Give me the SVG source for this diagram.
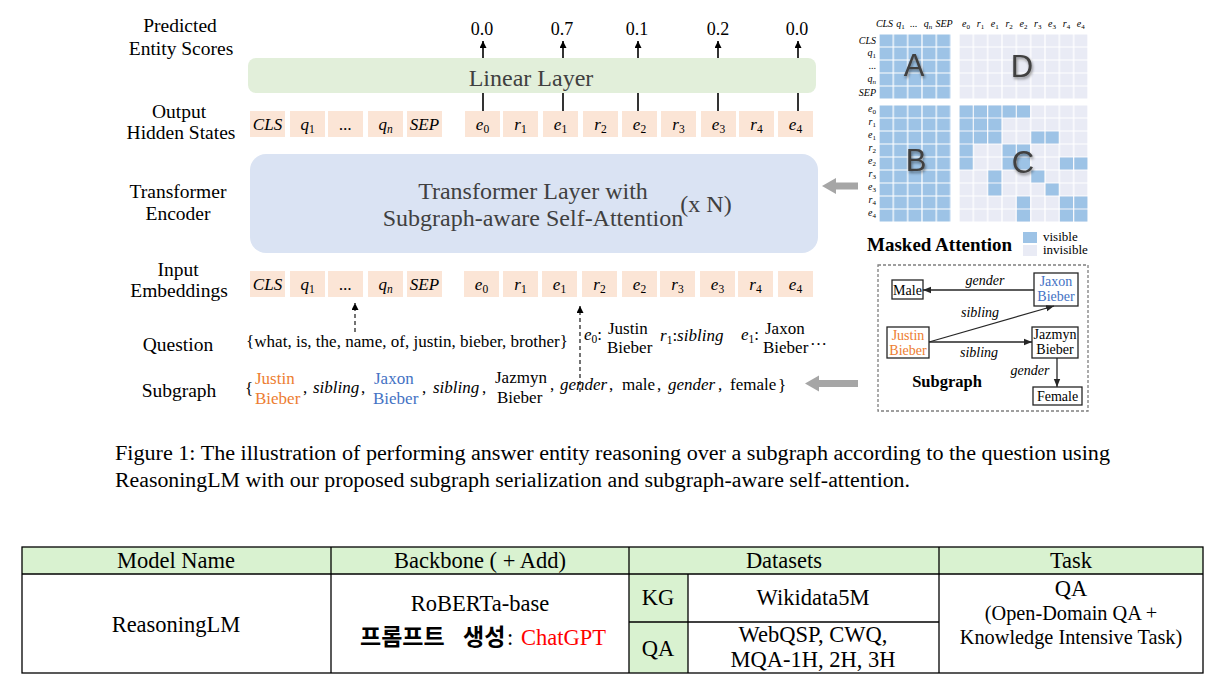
<svg xmlns="http://www.w3.org/2000/svg" width="1227" height="684" viewBox="0 0 1227 684">
<style>
  text { font-family: "Liberation Serif", "Times New Roman", serif; fill: #000; }
  .lbl { font-size: 19.5px; text-anchor: middle; }
  .tok { fill: #fbe5d6; }
  .tt { font-size: 17px; font-style: italic; text-anchor: middle; }
  .sub { font-size: 11.5px; }
  .score { font-size: 18px; text-anchor: middle; }
  .big { font-size: 24px; fill: #404040; text-anchor: middle; }
  .ml { font-size: 10px; font-style: italic; }
  .vis { fill: #9dc3e6; }
  .inv { fill: #e9ebf5; }
  .blk { font-family: "Liberation Sans", Arial, sans-serif; font-size: 31px; fill: #404040; text-anchor: middle; }
  .sg { font-size: 14px; text-anchor: middle; }
  .sgi { font-size: 14px; font-style: italic; text-anchor: middle; }
  .nbox { fill: #fff; stroke: #262626; stroke-width: 1.3; }
  .edge { stroke: #262626; stroke-width: 1.3; fill: none; }
  .ln { stroke: #000; stroke-width: 1.6; fill: none; }
  .dash { stroke: #000; stroke-width: 1.1; stroke-dasharray: 4 3; fill: none; }
  .q { font-size: 17px; }
  .qi { font-size: 17px; font-style: italic; }
  .tb { font-size: 22.5px; text-anchor: middle; }
  .tbs { font-size: 20.3px; text-anchor: middle; }
  .grid { stroke: #000; stroke-width: 1.3; fill: none; }
  .gray { fill: #a6a6a6; }
</style>
<defs>
  <marker id="ah" viewBox="0 0 10 10" refX="10" refY="5" markerWidth="7" markerHeight="7" markerUnits="userSpaceOnUse" orient="auto">
    <path d="M0,0 L10,5 L0,10 z" fill="#000"/>
  </marker>
  <marker id="ah2" viewBox="0 0 10 10" refX="10" refY="5" markerWidth="8" markerHeight="8" markerUnits="userSpaceOnUse" orient="auto">
    <path d="M0,1 L10,5 L0,9 z" fill="#262626"/>
  </marker>
  <pattern id="pA" x="879" y="34" width="14.333" height="13" patternUnits="userSpaceOnUse">
    <rect x="0.6" y="0.5" width="13.1" height="12" fill="#9dc3e6"/>
  </pattern>
  <pattern id="pB" x="879" y="105" width="14.333" height="13" patternUnits="userSpaceOnUse">
    <rect x="0.6" y="0.5" width="13.1" height="12" fill="#9dc3e6"/>
  </pattern>
  <pattern id="pD" x="959" y="34" width="14.333" height="13" patternUnits="userSpaceOnUse">
    <rect x="0.6" y="0.5" width="13.1" height="12" fill="#e9ebf5"/>
  </pattern>
  <pattern id="pC" x="959" y="105" width="14.333" height="13" patternUnits="userSpaceOnUse">
    <rect x="0.6" y="0.5" width="13.1" height="12" fill="#e9ebf5"/>
  </pattern>
  <filter id="sh" x="-30%" y="-30%" width="160%" height="160%">
    <feGaussianBlur in="SourceAlpha" stdDeviation="1.5"/>
    <feOffset dx="1" dy="1.5" result="b"/>
    <feComponentTransfer><feFuncA type="linear" slope="0.45"/></feComponentTransfer>
    <feMerge><feMergeNode/><feMergeNode in="SourceGraphic"/></feMerge>
  </filter>
</defs>

<!-- Left labels -->
<g id="labels">
  <text class="lbl" x="180" y="32">Predicted</text>
  <text class="lbl" x="181" y="55">Entity Scores</text>
  <text class="lbl" x="179" y="118">Output</text>
  <text class="lbl" x="181" y="139">Hidden States</text>
  <text class="lbl" x="178" y="198">Transformer</text>
  <text class="lbl" x="178" y="220">Encoder</text>
  <text class="lbl" x="178" y="276">Input</text>
  <text class="lbl" x="179" y="297">Embeddings</text>
  <text class="lbl" x="178" y="351">Question</text>
  <text class="lbl" x="179" y="397">Subgraph</text>
</g>

<!-- Scores -->
<g id="scores">
  <text class="score" x="482" y="35">0.0</text>
  <text class="score" x="562" y="35">0.7</text>
  <text class="score" x="637" y="35">0.1</text>
  <text class="score" x="718" y="35">0.2</text>
  <text class="score" x="797" y="35">0.0</text>
</g>

<!-- Linear layer -->
<g id="linear-layer">
  <rect x="248" y="58" width="568" height="35" rx="8" fill="#e2efda"/>
  <text class="big" x="531" y="86">Linear Layer</text>
</g>

<!-- Output hidden states -->
<g id="output-tokens">
  <rect class="tok" x="250" y="111" width="35" height="26"/>
  <rect class="tok" x="290" y="111" width="35" height="26"/>
  <rect class="tok" x="328" y="111" width="35" height="26"/>
  <rect class="tok" x="368" y="111" width="35" height="26"/>
  <rect class="tok" x="407" y="111" width="35" height="26"/>
  <rect class="tok" x="465" y="111" width="35" height="26"/>
  <rect class="tok" x="503" y="111" width="35" height="26"/>
  <rect class="tok" x="543" y="111" width="35" height="26"/>
  <rect class="tok" x="583" y="111" width="35" height="26"/>
  <rect class="tok" x="622" y="111" width="35" height="26"/>
  <rect class="tok" x="661" y="111" width="35" height="26"/>
  <rect class="tok" x="701" y="111" width="35" height="26"/>
  <rect class="tok" x="739" y="111" width="35" height="26"/>
  <rect class="tok" x="778" y="111" width="35" height="26"/>
  <text class="tt" x="267.5" y="130">CLS</text>
  <text class="tt" x="307.5" y="130">q<tspan class="sub" font-style="normal" dy="3">1</tspan></text>
  <text class="tt" x="345.5" y="130" font-style="normal">...</text>
  <text class="tt" x="385.5" y="130">q<tspan class="sub" dy="3">n</tspan></text>
  <text class="tt" x="424.5" y="130">SEP</text>
  <text class="tt" x="482.5" y="130">e<tspan class="sub" font-style="normal" dy="3">0</tspan></text>
  <text class="tt" x="520.5" y="130">r<tspan class="sub" font-style="normal" dy="3">1</tspan></text>
  <text class="tt" x="560.5" y="130">e<tspan class="sub" font-style="normal" dy="3">1</tspan></text>
  <text class="tt" x="600.5" y="130">r<tspan class="sub" font-style="normal" dy="3">2</tspan></text>
  <text class="tt" x="639.5" y="130">e<tspan class="sub" font-style="normal" dy="3">2</tspan></text>
  <text class="tt" x="678.5" y="130">r<tspan class="sub" font-style="normal" dy="3">3</tspan></text>
  <text class="tt" x="718.5" y="130">e<tspan class="sub" font-style="normal" dy="3">3</tspan></text>
  <text class="tt" x="756.5" y="130">r<tspan class="sub" font-style="normal" dy="3">4</tspan></text>
  <text class="tt" x="795.5" y="130">e<tspan class="sub" font-style="normal" dy="3">4</tspan></text>
</g>

<!-- Transformer -->
<g id="transformer">
  <rect x="250" y="154" width="568" height="99" rx="16" fill="#dae3f3"/>
  <text class="big" x="533" y="199">Transformer Layer with</text>
  <text class="big" x="533" y="226">Subgraph-aware Self-Attention</text>
  <text class="big" x="706" y="212">(x N)</text>
</g>

<!-- Input embeddings -->
<g id="input-tokens">
  <rect class="tok" x="250" y="271" width="35" height="26"/>
  <rect class="tok" x="290" y="271" width="35" height="26"/>
  <rect class="tok" x="328" y="271" width="35" height="26"/>
  <rect class="tok" x="368" y="271" width="35" height="26"/>
  <rect class="tok" x="407" y="271" width="35" height="26"/>
  <rect class="tok" x="464" y="271" width="35" height="26"/>
  <rect class="tok" x="503" y="271" width="35" height="26"/>
  <rect class="tok" x="542" y="271" width="35" height="26"/>
  <rect class="tok" x="582" y="271" width="35" height="26"/>
  <rect class="tok" x="622" y="271" width="35" height="26"/>
  <rect class="tok" x="660" y="271" width="35" height="26"/>
  <rect class="tok" x="700" y="271" width="35" height="26"/>
  <rect class="tok" x="738" y="271" width="35" height="26"/>
  <rect class="tok" x="778" y="271" width="35" height="26"/>
  <text class="tt" x="267.5" y="290">CLS</text>
  <text class="tt" x="307.5" y="290">q<tspan class="sub" font-style="normal" dy="3">1</tspan></text>
  <text class="tt" x="345.5" y="290" font-style="normal">...</text>
  <text class="tt" x="385.5" y="290">q<tspan class="sub" dy="3">n</tspan></text>
  <text class="tt" x="424.5" y="290">SEP</text>
  <text class="tt" x="481.5" y="290">e<tspan class="sub" font-style="normal" dy="3">0</tspan></text>
  <text class="tt" x="520.5" y="290">r<tspan class="sub" font-style="normal" dy="3">1</tspan></text>
  <text class="tt" x="559.5" y="290">e<tspan class="sub" font-style="normal" dy="3">1</tspan></text>
  <text class="tt" x="599.5" y="290">r<tspan class="sub" font-style="normal" dy="3">2</tspan></text>
  <text class="tt" x="639.5" y="290">e<tspan class="sub" font-style="normal" dy="3">2</tspan></text>
  <text class="tt" x="677.5" y="290">r<tspan class="sub" font-style="normal" dy="3">3</tspan></text>
  <text class="tt" x="717.5" y="290">e<tspan class="sub" font-style="normal" dy="3">3</tspan></text>
  <text class="tt" x="755.5" y="290">r<tspan class="sub" font-style="normal" dy="3">4</tspan></text>
  <text class="tt" x="795.5" y="290">e<tspan class="sub" font-style="normal" dy="3">4</tspan></text>
</g>

<!-- Question -->
<g id="question">
  <text class="q" x="246" y="347" textLength="322" lengthAdjust="spacingAndGlyphs">{what, is, the, name, of, justin, bieber, brother}</text>
  <text class="qi" x="584" y="340">e<tspan class="sub" font-style="normal" dy="3">0</tspan><tspan font-style="normal" dy="-3">:</tspan></text>
  <text class="q" x="608" y="334">Justin</text>
  <text class="q" x="607" y="353">Bieber</text>
  <text class="qi" x="660" y="341">r<tspan class="sub" font-style="normal" dy="3">1</tspan><tspan font-style="normal" dy="-3">:</tspan>sibling</text>
  <text class="qi" x="741" y="340">e<tspan class="sub" font-style="normal" dy="3">1</tspan><tspan font-style="normal" dy="-3">:</tspan></text>
  <text class="q" x="765" y="334">Jaxon</text>
  <text class="q" x="763" y="353">Bieber</text>
  <text class="q" x="810" y="345">…</text>
</g>

<!-- Subgraph serialization -->
<g id="subgraph-seq">
  <text class="q" x="245" y="394" font-size="21">{</text>
  <text class="q" x="255" y="384" style="fill:#ed7d31">Justin</text>
  <text class="q" x="255" y="404" style="fill:#ed7d31">Bieber</text>
  <text class="q" x="303" y="393">,</text>
  <text class="qi" x="313" y="393">sibling</text>
  <text class="q" x="361" y="393">,</text>
  <text class="q" x="374" y="384" style="fill:#4472c4">Jaxon</text>
  <text class="q" x="373" y="404" style="fill:#4472c4">Bieber</text>
  <text class="q" x="422" y="393">,</text>
  <text class="qi" x="433" y="393">sibling</text>
  <text class="q" x="482" y="393">,</text>
  <text class="q" x="495" y="383">Jazmyn</text>
  <text class="q" x="497" y="403">Bieber</text>
  <text class="q" x="550" y="390">,</text>
  <text class="qi" x="560" y="390">gender</text>
  <text class="q" x="609" y="390">,</text>
  <text class="q" x="622" y="390">male</text>
  <text class="q" x="657" y="390">,</text>
  <text class="qi" x="668" y="390">gender</text>
  <text class="q" x="718" y="390">,</text>
  <text class="q" x="730" y="390">female</text>
  <text class="q" x="778" y="391" font-size="21">}</text>
</g>

<!-- Attention matrix -->
<g id="masked-attention">
  <rect x="879" y="34" width="72" height="65" fill="url(#pA)"/>
  <rect x="879" y="105" width="72" height="117" fill="url(#pB)"/>
  <rect x="959" y="34" width="129" height="65" fill="url(#pD)"/>
  <rect x="959" y="105" width="129" height="117" fill="url(#pC)"/>
  <g class="vis">
    <rect x="959.6" y="105.5" width="13.1" height="12"/><rect x="973.9" y="105.5" width="13.1" height="12"/><rect x="988.3" y="105.5" width="13.1" height="12"/><rect x="1002.6" y="105.5" width="13.1" height="12"/><rect x="1016.9" y="105.5" width="13.1" height="12"/>
    <rect x="959.6" y="118.5" width="13.1" height="12"/><rect x="973.9" y="118.5" width="13.1" height="12"/><rect x="988.3" y="118.5" width="13.1" height="12"/>
    <rect x="959.6" y="131.5" width="13.1" height="12"/><rect x="973.9" y="131.5" width="13.1" height="12"/><rect x="988.3" y="131.5" width="13.1" height="12"/><rect x="1031.3" y="131.5" width="13.1" height="12"/><rect x="1045.6" y="131.5" width="13.1" height="12"/>
    <rect x="959.6" y="144.5" width="13.1" height="12"/><rect x="1002.6" y="144.5" width="13.1" height="12"/><rect x="1016.9" y="144.5" width="13.1" height="12"/>
    <rect x="959.6" y="157.5" width="13.1" height="12"/><rect x="1002.6" y="157.5" width="13.1" height="12"/><rect x="1016.9" y="157.5" width="13.1" height="12"/><rect x="1059.9" y="157.5" width="13.1" height="12"/><rect x="1074.3" y="157.5" width="13.1" height="12"/>
    <rect x="988.3" y="170.5" width="13.1" height="12"/><rect x="1031.3" y="170.5" width="13.1" height="12"/>
    <rect x="988.3" y="183.5" width="13.1" height="12"/><rect x="1045.6" y="183.5" width="13.1" height="12"/>
    <rect x="1016.9" y="196.5" width="13.1" height="12"/><rect x="1059.9" y="196.5" width="13.1" height="12"/><rect x="1074.3" y="196.5" width="13.1" height="12"/>
    <rect x="1016.9" y="209.5" width="13.1" height="12"/><rect x="1059.9" y="209.5" width="13.1" height="12"/><rect x="1074.3" y="209.5" width="13.1" height="12"/>
  </g>
  <g class="ml" text-anchor="middle">
    <text x="884.5" y="27">CLS</text>
    <text x="900.5" y="27">q<tspan font-size="7" font-style="normal" dy="2">1</tspan></text>
    <text x="913.5" y="27" font-style="normal">...</text>
    <text x="928" y="27">q<tspan font-size="7" dy="2">n</tspan></text>
    <text x="944" y="27">SEP</text>
    <text x="966" y="27">e<tspan font-size="7" font-style="normal" dy="2">0</tspan></text>
    <text x="980.5" y="27">r<tspan font-size="7" font-style="normal" dy="2">1</tspan></text>
    <text x="994.8" y="27">e<tspan font-size="7" font-style="normal" dy="2">1</tspan></text>
    <text x="1009.1" y="27">r<tspan font-size="7" font-style="normal" dy="2">2</tspan></text>
    <text x="1023.5" y="27">e<tspan font-size="7" font-style="normal" dy="2">2</tspan></text>
    <text x="1037.8" y="27">r<tspan font-size="7" font-style="normal" dy="2">3</tspan></text>
    <text x="1052.1" y="27">e<tspan font-size="7" font-style="normal" dy="2">3</tspan></text>
    <text x="1066.5" y="27">r<tspan font-size="7" font-style="normal" dy="2">4</tspan></text>
    <text x="1080.8" y="27">e<tspan font-size="7" font-style="normal" dy="2">4</tspan></text>
  </g>
  <g class="ml" text-anchor="end">
    <text x="876" y="44">CLS</text>
    <text x="876" y="56">q<tspan font-size="7" font-style="normal" dy="2">1</tspan></text>
    <text x="876" y="69" font-style="normal">...</text>
    <text x="876" y="82">q<tspan font-size="7" dy="2">n</tspan></text>
    <text x="876" y="96">SEP</text>
    <text x="876" y="112">e<tspan font-size="7" font-style="normal" dy="2">0</tspan></text>
    <text x="876" y="125">r<tspan font-size="7" font-style="normal" dy="2">1</tspan></text>
    <text x="876" y="138">e<tspan font-size="7" font-style="normal" dy="2">1</tspan></text>
    <text x="876" y="151">r<tspan font-size="7" font-style="normal" dy="2">2</tspan></text>
    <text x="876" y="164">e<tspan font-size="7" font-style="normal" dy="2">2</tspan></text>
    <text x="876" y="177">r<tspan font-size="7" font-style="normal" dy="2">3</tspan></text>
    <text x="876" y="190">e<tspan font-size="7" font-style="normal" dy="2">3</tspan></text>
    <text x="876" y="203">r<tspan font-size="7" font-style="normal" dy="2">4</tspan></text>
    <text x="876" y="216">e<tspan font-size="7" font-style="normal" dy="2">4</tspan></text>
  </g>
  <g filter="url(#sh)">
    <text class="blk" x="914" y="76">A</text>
    <text class="blk" x="1022" y="77">D</text>
    <text class="blk" x="916" y="171">B</text>
    <text class="blk" x="1023" y="173">C</text>
  </g>
  <text x="867" y="251" font-size="19" font-weight="bold">Masked Attention</text>
  <rect class="vis" x="1023" y="232" width="14" height="11"/>
  <rect class="inv" x="1023" y="245" width="14" height="11"/>
  <text x="1043" y="241" font-size="13">visible</text>
  <text x="1043" y="254" font-size="13">invisible</text>
</g>

<!-- Subgraph panel -->
<g id="subgraph-panel">
  <rect x="878" y="265" width="210" height="146" fill="none" stroke="#7f7f7f" stroke-width="1.3" stroke-dasharray="3 2"/>
  <text x="947" y="387" font-size="16.5" font-weight="bold" text-anchor="middle">Subgraph</text>
</g>
<g id="node-male">
  <rect class="nbox" x="892" y="280" width="31" height="19"/>
  <text class="sg" x="907.5" y="295">Male</text>
</g>
<g id="node-jaxon">
  <rect class="nbox" x="1034" y="273" width="44" height="33"/>
  <text class="sg" x="1056" y="286" style="fill:#4472c4">Jaxon</text>
  <text class="sg" x="1056" y="301" style="fill:#4472c4">Bieber</text>
</g>
<g id="node-justin">
  <rect class="nbox" x="887" y="327" width="42" height="31"/>
  <text class="sg" x="908" y="340" style="fill:#ed7d31">Justin</text>
  <text class="sg" x="908" y="355" style="fill:#ed7d31">Bieber</text>
</g>
<g id="node-jazmyn">
  <rect class="nbox" x="1032" y="327" width="46" height="31"/>
  <text class="sg" x="1055" y="339">Jazmyn</text>
  <text class="sg" x="1055" y="354">Bieber</text>
</g>
<g id="node-female">
  <rect class="nbox" x="1033" y="387" width="49" height="18"/>
  <text class="sg" x="1057.5" y="401">Female</text>
</g>

<!-- Connectors -->
<g id="connectors">
  <line class="edge" x1="1034" y1="290" x2="923" y2="290" marker-end="url(#ah2)"/>
  <line class="edge" x1="929" y1="342" x2="1054" y2="306" marker-end="url(#ah2)"/>
  <line class="edge" x1="929" y1="342" x2="1032" y2="342" marker-end="url(#ah2)"/>
  <line class="edge" x1="1057" y1="358" x2="1057" y2="387" marker-end="url(#ah2)"/>
  <text class="sgi" x="985" y="285">gender</text>
  <text class="sgi" x="980" y="317">sibling</text>
  <text class="sgi" x="979" y="357">sibling</text>
  <text class="sgi" x="1030" y="375">gender</text>

  <line class="ln" x1="483" y1="58" x2="483" y2="41" marker-end="url(#ah)"/>
  <line class="ln" x1="563" y1="58" x2="563" y2="41" marker-end="url(#ah)"/>
  <line class="ln" x1="638" y1="58" x2="638" y2="41" marker-end="url(#ah)"/>
  <line class="ln" x1="718" y1="58" x2="718" y2="41" marker-end="url(#ah)"/>
  <line class="ln" x1="798" y1="58" x2="798" y2="41" marker-end="url(#ah)"/>
  <line class="ln" x1="483" y1="93" x2="483" y2="111"/>
  <line class="ln" x1="563" y1="93" x2="563" y2="111"/>
  <line class="ln" x1="638" y1="93" x2="638" y2="111"/>
  <line class="ln" x1="718" y1="93" x2="718" y2="111"/>
  <line class="ln" x1="798" y1="93" x2="798" y2="111"/>

  <line class="dash" x1="355" y1="332" x2="355" y2="303" marker-end="url(#ah)"/>
  <line class="dash" x1="580" y1="392" x2="580" y2="306" marker-end="url(#ah)"/>

  <path class="gray" d="M858,182.5 L836,182.5 L836,178 L822,186 L836,194 L836,189.5 L858,189.5 z"/>
  <path class="gray" d="M858,380 L819,380 L819,375.5 L805,383.5 L819,391.5 L819,387 L858,387 z"/>
</g>

<!-- Caption -->
<g id="caption">
  <text x="115" y="460" font-size="20" textLength="995" lengthAdjust="spacingAndGlyphs">Figure 1: The illustration of performing answer entity reasoning over a subgraph according to the question using</text>
  <text x="115" y="487" font-size="20" textLength="795" lengthAdjust="spacingAndGlyphs">ReasoningLM with our proposed subgraph serialization and subgraph-aware self-attention.</text>
</g>

<!-- Table -->
<g id="table">
  <rect x="22" y="547" width="1181" height="27" fill="#d9f2d0"/>
  <rect x="629" y="574" width="59" height="99" fill="#d9f2d0"/>
  <rect class="grid" x="22" y="547" width="1181" height="126"/>
  <line class="grid" x1="22" y1="574" x2="1203" y2="574"/>
  <line class="grid" x1="331" y1="547" x2="331" y2="673"/>
  <line class="grid" x1="629" y1="547" x2="629" y2="673"/>
  <line class="grid" x1="939" y1="547" x2="939" y2="673"/>
  <line class="grid" x1="688" y1="574" x2="688" y2="673"/>
  <line class="grid" x1="629" y1="622" x2="939" y2="622"/>
  <text class="tb" x="176" y="568">Model Name</text>
  <text class="tb" x="480" y="568">Backbone ( + Add)</text>
  <text class="tb" x="784" y="568">Datasets</text>
  <text class="tb" x="1071" y="568">Task</text>
  <text class="tb" x="176" y="632">ReasoningLM</text>
  <text class="tb" x="480" y="611">RoBERTa-base</text>
  <text y="645" font-size="22.5"><tspan x="360" font-family="'Noto Sans CJK KR', sans-serif" font-weight="bold" font-size="23">프롬프트</tspan><tspan x="463" font-family="'Noto Sans CJK KR', sans-serif" font-weight="bold" font-size="23">생성</tspan><tspan x="507">:</tspan><tspan x="521" style="fill:#ff0000">ChatGPT</tspan></text>
  <text class="tb" x="658" y="605">KG</text>
  <text class="tb" x="813" y="605">Wikidata5M</text>
  <text class="tb" x="658" y="656">QA</text>
  <text class="tb" x="813" y="642">WebQSP, CWQ,</text>
  <text class="tb" x="813" y="667">MQA-1H, 2H, 3H</text>
  <text class="tb" x="1071" y="596">QA</text>
  <text class="tbs" x="1071" y="620">(Open-Domain QA +</text>
  <text class="tbs" x="1071" y="644">Knowledge Intensive Task)</text>
</g>
</svg>
